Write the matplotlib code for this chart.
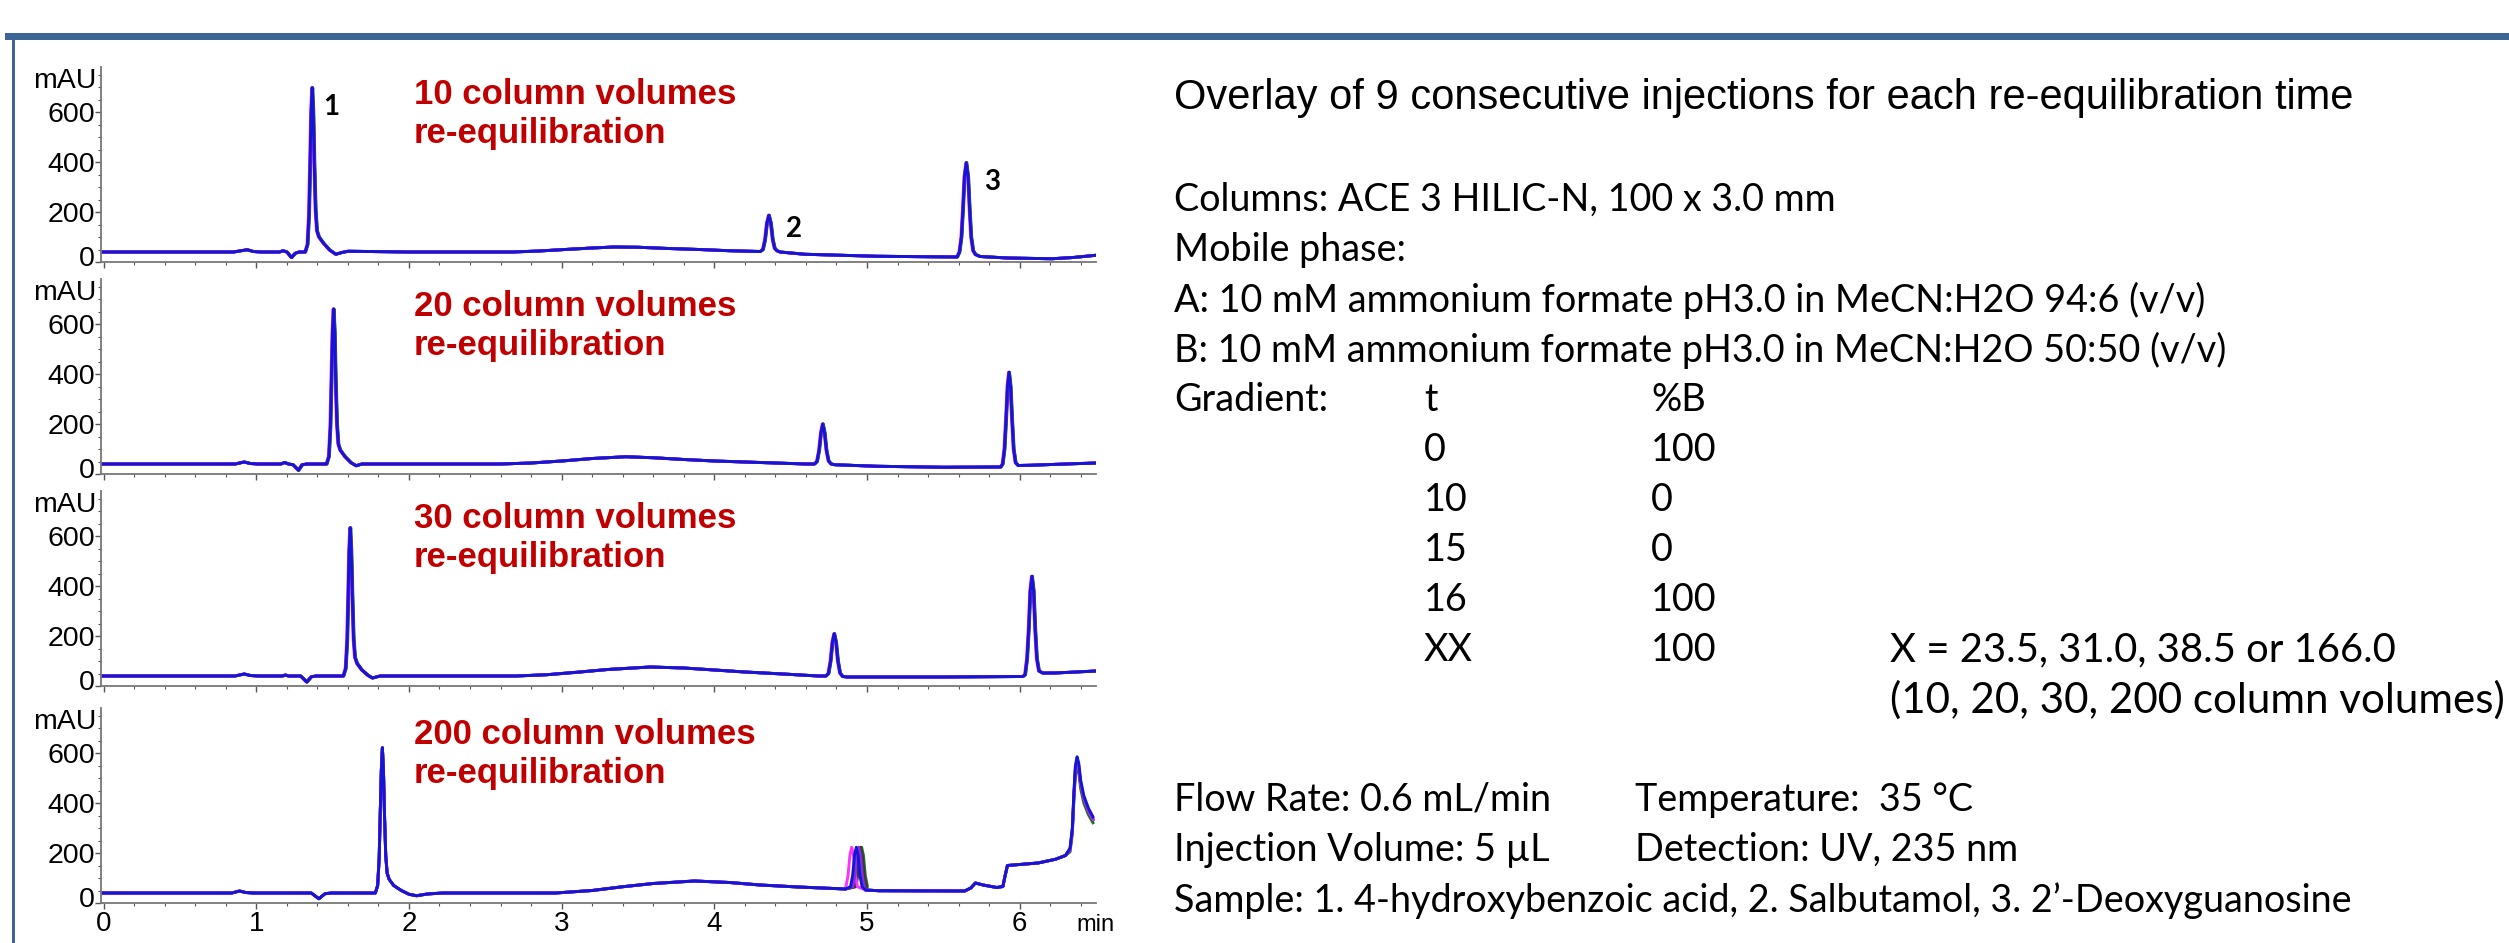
import numpy as np
import matplotlib.pyplot as plt
from matplotlib.patches import Rectangle
from matplotlib.ticker import MultipleLocator
from matplotlib.transforms import ScaledTranslation

# ---- chromatogram traces: time (min) and height above baseline (mAU) ----
t_10 = [-0.02, 0.85, 0.90, 0.94, 0.98, 1.03, 1.15, 1.175, 1.20, 1.23, 1.255, 1.28, 1.32,
        1.335, 1.345, 1.352, 1.359, 1.366, 1.373, 1.380, 1.388, 1.397, 1.41, 1.44, 1.48, 1.52, 1.56, 1.60,
        2.0, 2.68, 2.85, 3.05, 3.20, 3.34, 3.50, 3.70, 3.90, 4.10, 4.30,
        4.318, 4.332, 4.344, 4.357, 4.370, 4.382, 4.395, 4.41, 4.43, 4.59, 5.06, 5.40, 5.59,
        5.605, 5.618, 5.628, 5.638, 5.650, 5.662, 5.672, 5.682, 5.695, 5.71, 5.74, 5.92, 6.21, 6.35, 6.50]
y_10 = [0, 0, 5, 9, 2, 0, 0, 5, 0, -22, -5, 0, 0,
        30, 150, 350, 560, 657, 560, 350, 170, 85, 60, 35, 8, -9, -2, 3,
        0, 0, 4, 11, 16, 20, 19, 14, 10, 5, 2,
        10, 50, 115, 147, 115, 50, 15, 5, 0, -9, -17, -19, -20,
        0, 60, 170, 300, 357, 300, 170, 60, 5, -10, -18, -24, -27, -22, -13]

t_20 = [-0.02, 0.86, 0.92, 0.96, 1.01, 1.16, 1.185, 1.21, 1.24, 1.276, 1.30, 1.33, 1.46,
        1.475, 1.485, 1.492, 1.499, 1.506, 1.513, 1.520, 1.528, 1.537, 1.55, 1.58, 1.62, 1.654, 1.69,
        2.0, 2.6, 2.80, 3.00, 3.20, 3.42, 3.60, 3.80, 4.00, 4.30, 4.60,
        4.655, 4.672, 4.686, 4.698, 4.710, 4.722, 4.734, 4.748, 4.765, 4.79, 5.06, 5.50, 5.875,
        5.888, 5.900, 5.910, 5.920, 5.930, 5.940, 5.950, 5.960, 5.973, 5.99, 6.07, 6.30, 6.50]
y_20 = [0, 0, 8, 2, 0, 0, 6, 0, -3, -25, -3, 0, 0,
        30, 150, 340, 530, 620, 530, 330, 160, 80, 55, 30, 5, -7, 0,
        0, 0, 4, 12, 22, 29, 25, 18, 12, 6, 0,
        0, 10, 55, 125, 160, 125, 55, 12, 0, -3, -9, -13, -12,
        0, 60, 175, 310, 367, 310, 175, 60, 5, -6, -5, 0, 4]

t_30 = [-0.02, 0.86, 0.92, 0.96, 1.01, 1.17, 1.19, 1.21, 1.29, 1.33, 1.36, 1.39, 1.57,
        1.585, 1.595, 1.602, 1.608, 1.615, 1.622, 1.629, 1.637, 1.646, 1.66, 1.69, 1.73, 1.76, 1.81,
        2.0, 2.7, 2.90, 3.10, 3.30, 3.58, 3.80, 4.00, 4.20, 4.45, 4.68,
        4.730, 4.747, 4.761, 4.773, 4.785, 4.797, 4.809, 4.823, 4.84, 4.87, 5.06, 5.50, 6.02,
        6.035, 6.048, 6.059, 6.069, 6.080, 6.091, 6.101, 6.112, 6.126, 6.15, 6.23, 6.40, 6.50]
y_30 = [0, 0, 8, 2, 0, 0, 4, 0, 0, -24, -3, 0, 0,
        30, 145, 330, 500, 593, 500, 320, 150, 75, 50, 25, 3, -8, 0,
        0, 0, 5, 15, 26, 36, 32, 24, 16, 8, 0,
        0, 10, 60, 135, 169, 135, 60, 12, -2, -4, -4, -4, -2,
        5, 70, 190, 340, 399, 340, 190, 70, 20, 12, 12, 17, 20]

t_200 = [-0.02, 0.84, 0.89, 0.93, 0.98, 1.36, 1.41, 1.45, 1.49, 1.78,
         1.795, 1.805, 1.812, 1.819, 1.826, 1.833, 1.840, 1.848, 1.857, 1.87, 1.90, 1.95, 2.00, 2.05, 2.12,
         2.22, 2.96, 3.20, 3.40, 3.60, 3.87, 4.10, 4.30, 4.55, 4.86,
         4.892, 4.906, 4.918, 4.930, 4.942, 4.954, 4.968, 4.99, 5.08, 5.64, 5.68, 5.71, 5.76, 5.85, 5.89,
         5.905, 5.92, 6.02, 6.12, 6.235, 6.30, 6.33, 6.345, 6.355, 6.365, 6.376, 6.387, 6.40, 6.42, 6.45, 6.48]
y_200 = [0, 0, 8, 2, 0, 0, -23, -3, 0, 0,
         30, 140, 320, 490, 581, 490, 310, 150, 80, 55, 30, 10, -5, -11, -4,
         0, 0, 10, 25, 38, 48, 42, 32, 24, 16,
         25, 70, 150, 183, 150, 70, 25, 12, 9, 8, 20, 40, 32, 22, 26,
         70, 110, 115, 120, 135, 150, 180, 260, 400, 510, 545, 520, 450, 390, 340, 305]

baseline = [40, 40, 40, 40]

# 9 consecutive injections: small retention shifts seen in the overlay
inj_colors = ['#1e7a1e', '#3a3a3a', '#ff33ff', '#8a2be2', '#1515d5']
inj_shift = [0.004, 0.002, -0.003, 0.001, 0.0]
# 200 CV panel: peak 2 spread and final peak height per injection
p2_shift_200 = [0.035, 0.028, -0.03, 0.015, 0.0]
end_scale_200 = [0.93, 0.96, 0.97, 0.98, 1.0]

panel_labels = ['10 column volumes', '20 column volumes', '30 column volumes', '200 column volumes']
traces = [(t_10, y_10), (t_20, y_20), (t_30, y_30), (t_200, y_200)]

peak_ids = ['1', '2', '3']
peak_id_pos = [(1.49, 620), (4.52, 132), (5.82, 320)]

grad_t = ['0', '10', '15', '16', 'XX']
grad_b = ['100', '0', '0', '100', '100']

W, H = 2509, 943
plt.rcParams['font.family'] = 'Liberation Sans'
fig = plt.figure(figsize=(W / 100, H / 100), dpi=100)


def fx(x):
    return x / W


def fy(y):
    return 1 - y / H


# frame bars
fig.add_artist(Rectangle((fx(5), fy(40)), 1, 7 / H, transform=fig.transFigure,
                         color='#3b6594', lw=0))
fig.add_artist(Rectangle((fx(12), 0), 3.5 / W, fy(33), transform=fig.transFigure,
                         color='#3b6594', lw=0))

axis_lines = [262, 474, 686, 903]
ax_h = 195
zero_off = ScaledTranslation(0, 6 / 100, fig.dpi_scale_trans)
for i, (tt, yy) in enumerate(traces):
    ax = fig.add_axes([fx(101), fy(axis_lines[i]), fx(1096) - fx(101), ax_h / H])
    tt = np.array(tt)
    yy = np.array(yy, dtype=float) + baseline[i]
    for c, s, ps, es in zip(inj_colors, inj_shift, p2_shift_200, end_scale_200):
        if i == 3:
            t2 = tt.copy()
            win = (tt > 4.88) & (tt < 4.98)
            t2[win] = t2[win] + ps
            y2 = yy.copy()
            late = tt > 6.32
            y2[late] = y2[late] * es
            ax.plot(t2, y2, color=c, lw=2.1)
        else:
            ax.plot(tt + s, yy, color=c, lw=2.1)
    ax.set_xlim(-0.017, 6.50)
    ax.set_ylim(0, 780)
    for side in ['top', 'right']:
        ax.spines[side].set_visible(False)
    for side in ['left', 'bottom']:
        ax.spines[side].set_color('#777777')
        ax.spines[side].set_linewidth(1.3)
    ax.set_yticks([0, 200, 400, 600])
    ax.yaxis.set_minor_locator(MultipleLocator(50))
    ax.xaxis.set_major_locator(MultipleLocator(1))
    ax.xaxis.set_minor_locator(MultipleLocator(0.2))
    ax.tick_params(axis='both', which='major', length=4, width=1, color='#555555')
    ax.tick_params(axis='both', which='minor', length=2, width=0.8, color='#555555')
    ax.tick_params(axis='y', labelsize=20.5, pad=0.5)
    ax.tick_params(axis='x', labelsize=20, pad=2)
    zl = ax.get_yticklabels()[0]
    zl.set_transform(zl.get_transform() + zero_off)
    if i < 3:
        ax.set_xticklabels([])
    else:
        ax.text(6.50, -0.115, 'min', transform=ax.get_xaxis_transform(), fontsize=17,
                ha='center', va='center')
    ax.text(-0.005, 725, 'mAU', transform=ax.get_yaxis_transform(), fontsize=20.5,
            ha='right', va='center')
    ax.text(2.03, 672, panel_labels[i], color='#c00000', fontsize=25,
            fontweight='bold', ha='left', va='center')
    ax.text(2.03, 516, 're-equilibration', color='#c00000', fontsize=25,
            fontweight='bold', ha='left', va='center')
    if i == 0:
        for lab, (px, py) in zip(peak_ids, peak_id_pos):
            ax.text(px, py, lab, fontsize=20, fontweight='bold', family='Lato',
                    ha='center', va='center')

# right-hand description
body = dict(fontsize=27.2, family='Lato', va='center', ha='left')
fig.text(fx(1174), fy(98), 'Overlay of 9 consecutive injections for each re-equilibration time',
         fontsize=30, va='center', ha='left')
fig.text(fx(1174), fy(200), 'Columns: ACE 3 HILIC-N, 100 x 3.0 mm', **body)
fig.text(fx(1174), fy(250), 'Mobile phase:', **body)
fig.text(fx(1174), fy(300), 'A: 10 mM ammonium formate pH3.0 in MeCN:H2O 94:6 (v/v)', **body)
fig.text(fx(1174), fy(350), 'B: 10 mM ammonium formate pH3.0 in MeCN:H2O 50:50 (v/v)', **body)
fig.text(fx(1174), fy(400), 'Gradient:', **body)
fig.text(fx(1424), fy(400), 't', **body)
fig.text(fx(1651), fy(400), '%B', **body)
for k, (gt, gb) in enumerate(zip(grad_t, grad_b)):
    fig.text(fx(1424), fy(450 + 50 * k), gt, **body)
    fig.text(fx(1651), fy(450 + 50 * k), gb, **body)
fig.text(fx(1890), fy(650), 'X = 23.5, 31.0, 38.5 or 166.0', **dict(body, fontsize=28.8))
fig.text(fx(1890), fy(700), '(10, 20, 30, 200 column volumes)', **dict(body, fontsize=30.3))
fig.text(fx(1174), fy(800), 'Flow Rate: 0.6 mL/min', **body)
fig.text(fx(1635), fy(800), 'Temperature:  35 \u00b0C', **body)
fig.text(fx(1174), fy(850), 'Injection Volume: 5 \u00b5L', **body)
fig.text(fx(1635), fy(850), 'Detection: UV, 235 nm', **body)
fig.text(fx(1174), fy(901), 'Sample: 1. 4-hydroxybenzoic acid, 2. Salbutamol, 3. 2\u2019-Deoxyguanosine',
         **body)

fig.savefig('out.png', dpi=100)
